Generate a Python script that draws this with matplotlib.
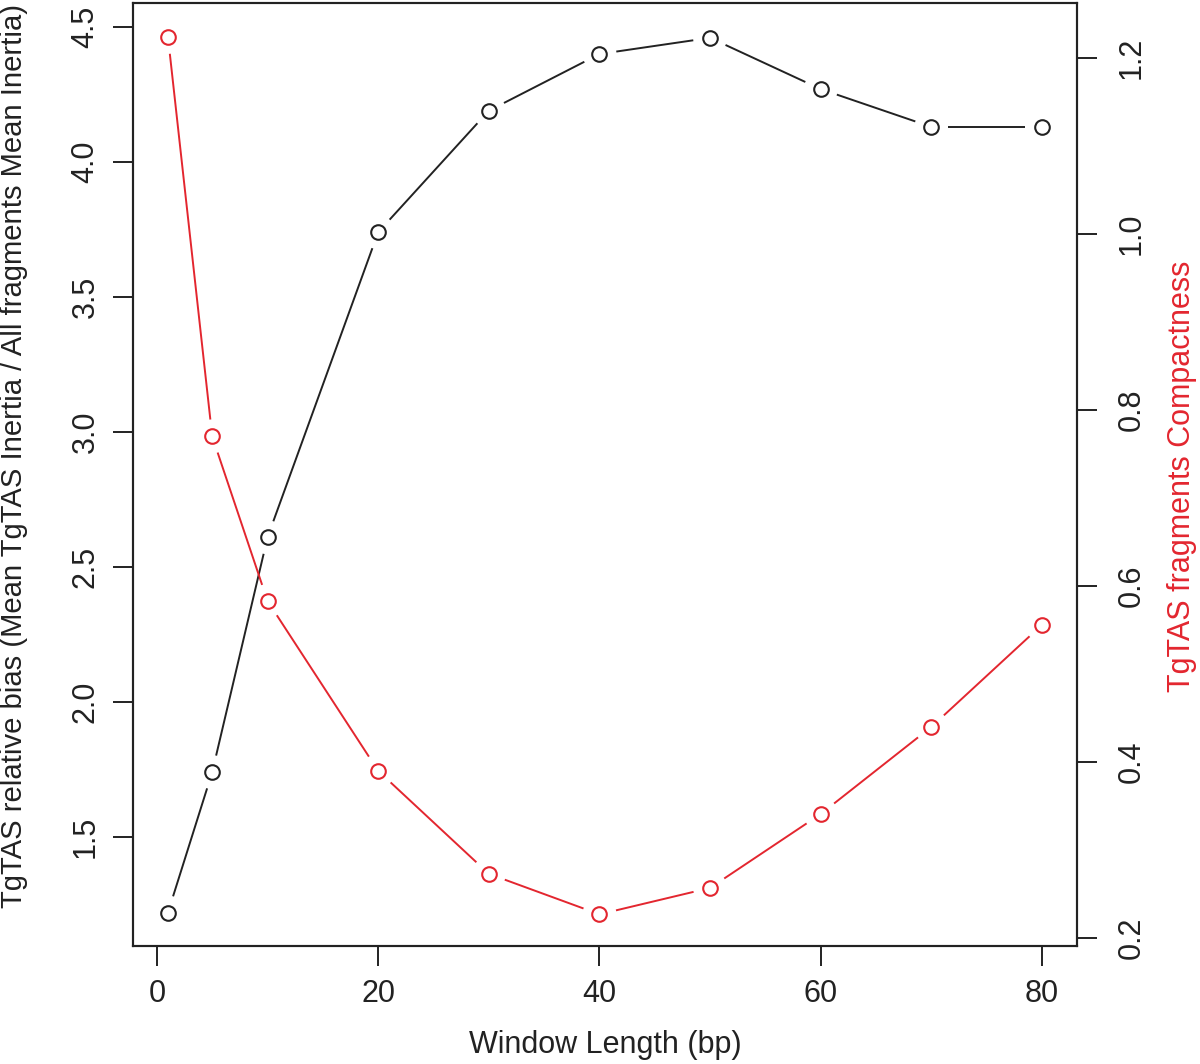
import numpy as np
import matplotlib
matplotlib.use("Agg")
import matplotlib.pyplot as plt
from matplotlib.collections import LineCollection

plt.rcParams['font.family'] = ['Liberation Sans', 'DejaVu Sans']

# ---- data ----
window_length = [1, 5, 10, 20, 30, 40, 50, 60, 70, 80]
relative_bias = [1.22, 1.74, 2.61, 3.74, 4.19, 4.40, 4.46, 4.27, 4.13, 4.13]
compactness = [1.224, 0.770, 0.583, 0.390, 0.273, 0.227, 0.257, 0.341, 0.440, 0.556]

left_ticks = [1.5, 2.0, 2.5, 3.0, 3.5, 4.0, 4.5]
right_ticks = [0.2, 0.4, 0.6, 0.8, 1.0, 1.2]
x_ticks = [0, 20, 40, 60, 80]

BLACK = '#222222'
RED = '#e3262f'
FS = 22

W, H = 1200, 1064
fig = plt.figure(figsize=(W / 100, H / 100), dpi=100)
ax = fig.add_axes([133 / W, (H - 946) / H, (1077 - 133) / W, (946 - 3) / H])
ax2 = ax.twinx()

ax.set_xlim(-2.16, 83.16)
ax.set_ylim(1.096, 4.589)
ax2.set_ylim(0.191, 1.2625)


def gapped_line(axis, xs, ys, color, gap_px=17):
    pts = axis.transData.transform(np.column_stack([xs, ys]))
    inv = axis.transData.inverted()
    segs = []
    for p, q in zip(pts[:-1], pts[1:]):
        d = q - p
        L = np.hypot(*d)
        if L > 2 * gap_px:
            u = d / L
            segs.append(inv.transform(np.array([p + u * gap_px, q - u * gap_px])))
    lc = LineCollection(segs, colors=color, linewidths=1.4, capstyle='butt')
    axis.add_collection(lc)


gapped_line(ax, window_length, relative_bias, BLACK)
ax.plot(window_length, relative_bias, 'o', ms=10.5, mfc='none', mec=BLACK, mew=1.5)

gapped_line(ax2, window_length, compactness, RED)
ax2.plot(window_length, compactness, 'o', ms=10.5, mfc='none', mec=RED, mew=1.5)

ax.set_xticks(x_ticks)
ax.set_yticks(left_ticks)
ax2.set_yticks(right_ticks)
ax.set_yticklabels([f"{v:.1f}" for v in left_ticks])
ax2.set_yticklabels([f"{v:.1f}" for v in right_ticks])

for a in (ax, ax2):
    a.tick_params(length=14.4, width=1.4, labelsize=FS, colors='#222222')
    for s in a.spines.values():
        s.set_linewidth(1.5)
        s.set_color('#222222')
ax.tick_params(axis='y', labelrotation=90, pad=9)
ax.tick_params(axis='x', pad=9)
ax2.tick_params(axis='y', labelrotation=90, pad=14)
for lab in ax2.get_yticklabels():
    lab.set_va('center')
for lab in ax.get_yticklabels():
    lab.set_va('center')

fig.text(605 / W, 11 / H, 'Window Length (bp)', fontsize=FS, color='#222222',
         ha='center', va='baseline')
fig.text(14 / W, (H - 456) / H,
         'TgTAS relative bias (Mean TgTAS Inertia / All fragments Mean Inertia)',
         fontsize=21.1, color='#222222', rotation=90, ha='center', va='center')
fig.text(1182 / W, (H - 476) / H, 'TgTAS fragments Compactness', fontsize=FS,
         color=RED, rotation=90, ha='center', va='center')

fig.savefig('out.png', dpi=100)
